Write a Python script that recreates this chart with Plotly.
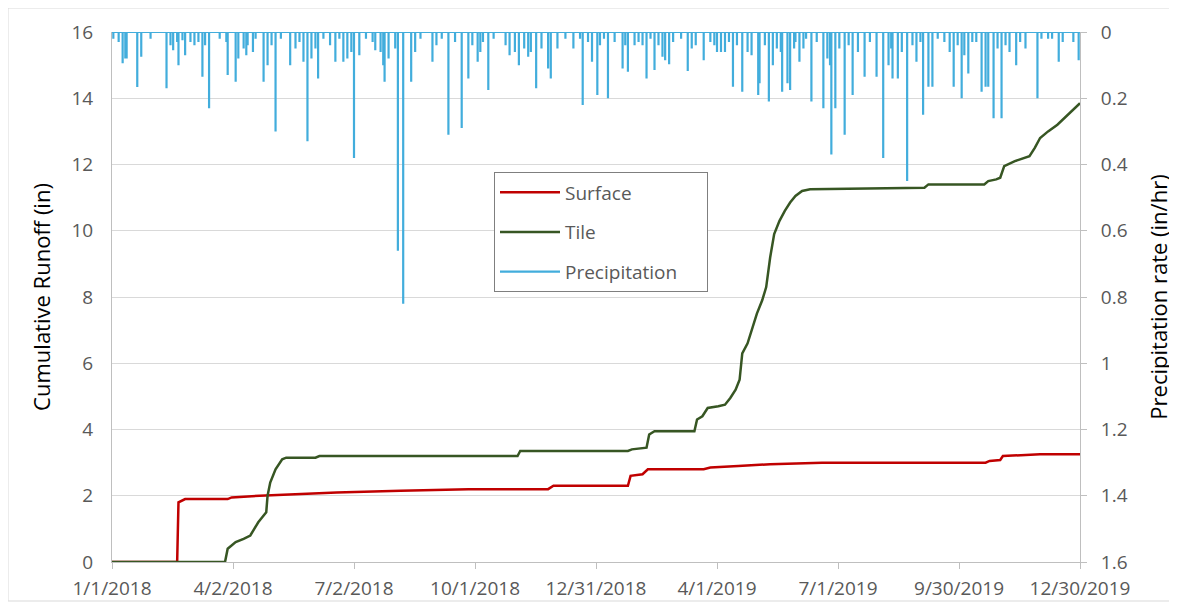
import pandas as pd
import plotly.graph_objects as go

START = pd.Timestamp("2018-01-01")

# Cumulative surface runoff (day offset from 1/1/2018, inches)
surface_day = [0, 49, 50, 55, 87, 90, 111, 141, 169, 217, 268, 328, 332, 388, 390, 399, 403,
               445, 450, 471, 495, 534, 657, 660, 668, 670, 698, 728]
surface_in = [0, 0, 1.8, 1.9, 1.9, 1.95, 2.0, 2.05, 2.1, 2.15, 2.2, 2.2, 2.3, 2.3, 2.6, 2.65, 2.8,
              2.8, 2.85, 2.9, 2.95, 3.0, 3.0, 3.05, 3.08, 3.2, 3.25, 3.25]

# Cumulative tile runoff (day offset, inches)
tile_day = [0, 85, 87, 93, 99, 104, 107, 110, 113, 116, 117, 119, 123, 128, 131, 153, 156, 305,
            307, 388, 391, 402, 404, 408, 438, 440, 444, 448, 456, 461, 465, 469, 472, 474, 478,
            481, 485, 489, 492, 495, 498, 502, 506, 510, 514, 519, 525, 611, 614, 656, 659, 665,
            668, 671, 679, 690, 694, 698, 704, 711, 719, 728]
tile_in = [0, 0, 0.4, 0.6, 0.7, 0.8, 1.0, 1.2, 1.35, 1.5, 2.0, 2.4, 2.8, 3.1, 3.15, 3.15, 3.2, 3.2,
           3.35, 3.35, 3.4, 3.45, 3.85, 3.95, 3.95, 4.3, 4.4, 4.65, 4.7, 4.75, 4.95, 5.2, 5.5, 6.3,
           6.6, 7.0, 7.5, 7.9, 8.3, 9.2, 9.9, 10.3, 10.6, 10.85, 11.05, 11.2, 11.25, 11.3, 11.4,
           11.4, 11.5, 11.55, 11.6, 11.95, 12.1, 12.25, 12.5, 12.8, 13.0, 13.2, 13.5, 13.85]

# Precipitation events (day offset, in/hr)
precip_day = [1, 5, 8, 10, 11, 19, 22, 29, 41, 44, 46, 49, 50, 53, 55, 59, 62, 65, 68, 70, 73, 81,
              86, 87, 93, 95, 99, 101, 102, 106, 108, 114, 117, 120, 123, 127, 134, 138, 141, 144,
              147, 150, 153, 155, 159, 164, 168, 171, 174, 177, 180, 182, 186, 191, 196, 198, 202,
              204, 205, 208, 213, 215, 219, 225, 228, 232, 241, 244, 248, 253, 258, 263, 268, 271,
              275, 277, 279, 283, 287, 296, 299, 303, 306, 310, 313, 315, 319, 323, 328, 330, 335,
              341, 347, 352, 354, 358, 361, 365, 367, 370, 373, 378, 384, 386, 388, 393, 396, 399,
              402, 405, 408, 411, 414, 416, 419, 422, 428, 433, 436, 439, 445, 450, 453, 455, 458,
              461, 464, 467, 470, 474, 478, 481, 486, 487, 491, 494, 497, 500, 503, 504, 508, 510,
              513, 514, 517, 520, 522, 526, 530, 535, 538, 540, 541, 544, 547, 551, 554, 557, 561,
              566, 570, 575, 580, 584, 586, 587, 591, 594, 598, 602, 605, 608, 610, 614, 617, 621,
              626, 630, 633, 636, 639, 641, 644, 647, 650, 654, 657, 659, 663, 666, 669, 672, 675,
              680, 683, 687, 696, 699, 704, 707, 712, 715, 723, 727]
precip_rate = [0.02, 0.03, 0.094, 0.08, 0.08, 0.166, 0.075, 0.02, 0.17, 0.04, 0.055, 0.03, 0.1,
               0.025, 0.07, 0.03, 0.04, 0.03, 0.135, 0.04, 0.23, 0.02, 0.03, 0.13, 0.15, 0.08, 0.05,
               0.07, 0.04, 0.06, 0.02, 0.15, 0.1, 0.04, 0.30, 0.02, 0.1, 0.05, 0.03, 0.09, 0.33,
               0.08, 0.05, 0.14, 0.02, 0.04, 0.09, 0.02, 0.09, 0.08, 0.06, 0.38, 0.07, 0.02, 0.03,
               0.055, 0.06, 0.1, 0.15, 0.08, 0.05, 0.66, 0.82, 0.15, 0.06, 0.02, 0.09, 0.04, 0.02,
               0.31, 0.03, 0.29, 0.14, 0.04, 0.09, 0.06, 0.03, 0.175, 0.02, 0.04, 0.07, 0.06, 0.1,
               0.05, 0.075, 0.06, 0.17, 0.05, 0.11, 0.14, 0.05, 0.02, 0.05, 0.02, 0.22, 0.03, 0.09,
               0.19, 0.04, 0.02, 0.2, 0.03, 0.11, 0.04, 0.12, 0.04, 0.03, 0.04, 0.14, 0.02, 0.115,
               0.04, 0.075, 0.085, 0.097, 0.03, 0.02, 0.118, 0.05, 0.04, 0.085, 0.03, 0.04, 0.06,
               0.06, 0.06, 0.03, 0.165, 0.04, 0.18, 0.06, 0.07, 0.19, 0.155, 0.04, 0.21, 0.1, 0.05,
               0.06, 0.18, 0.155, 0.175, 0.05, 0.03, 0.09, 0.05, 0.02, 0.21, 0.03, 0.23, 0.08, 0.1,
               0.37, 0.23, 0.05, 0.31, 0.04, 0.19, 0.06, 0.135, 0.03, 0.135, 0.38, 0.1, 0.05, 0.14,
               0.14, 0.06, 0.45, 0.04, 0.09, 0.03, 0.25, 0.165, 0.165, 0.02, 0.03, 0.06, 0.165,
               0.04, 0.2, 0.07, 0.125, 0.03, 0.03, 0.18, 0.165, 0.165, 0.26, 0.05, 0.26, 0.04,
               0.06, 0.1, 0.03, 0.05, 0.2, 0.02, 0.02, 0.02, 0.09, 0.03, 0.03, 0.085]

series_names = ["Surface", "Tile", "Precipitation"]

tick_dates = ["2018-01-01", "2018-04-02", "2018-07-02", "2018-10-01", "2018-12-31",
              "2019-04-01", "2019-07-01", "2019-09-30", "2019-12-30"]
tick_labels = ["1/1/2018", "4/2/2018", "7/2/2018", "10/1/2018", "12/31/2018",
               "4/1/2019", "7/1/2019", "9/30/2019", "12/30/2019"]
left_ticks = [0, 2, 4, 6, 8, 10, 12, 14, 16]
right_ticks = [0, 0.2, 0.4, 0.6, 0.8, 1.0, 1.2, 1.4, 1.6]
right_labels = ["0", "0.2", "0.4", "0.6", "0.8", "1", "1.2", "1.4", "1.6"]


def to_dates(days):
    return [START + pd.Timedelta(days=d) for d in days]


# build precipitation spikes hanging from the zero line
events = sorted(zip(precip_day, precip_rate))
px, py = [0], [0.0]
for d, v in events:
    px += [d, d, d]
    py += [0.0, v, 0.0]
px.append(728)
py.append(0.0)

FONT = "Open Sans, Noto Sans, sans-serif"
GRAY = "#595959"
PAD = "\u00a0" * 5  # right padding inside the legend box

# page body adds an 8px offset; margins compensate so the plot area sits at 112..1080 x 32..562
ML, MT, PW, PH = 104, 24, 968, 530

fig = go.Figure()
fig.add_trace(go.Scatter(x=to_dates(surface_day), y=surface_in, mode="lines",
                         name=series_names[0] + PAD,
                         line=dict(color="#C00000", width=2.5), legendrank=1, legendgroup="a"))
fig.add_trace(go.Scatter(x=to_dates(tile_day), y=tile_in, mode="lines",
                         name=series_names[1] + PAD,
                         line=dict(color="#375623", width=2.5), legendrank=2, legendgroup="b"))
fig.add_trace(go.Scatter(x=to_dates(px), y=py, mode="lines", name=series_names[2] + PAD,
                         yaxis="y2",
                         line=dict(color="#42ADDC", width=2.2), legendrank=3, legendgroup="c"))

fig.update_layout(
    width=1177, height=606,
    margin=dict(l=ML, r=1177 - ML - PW, t=MT, b=606 - MT - PH, autoexpand=False),
    paper_bgcolor="white", plot_bgcolor="white",
    font=dict(family=FONT, size=19, color=GRAY),
    showlegend=True,
    legend=dict(x=(494 - 112) / PW, y=0.735, xanchor="left", yanchor="top",
                bordercolor="#7F7F7F", borderwidth=1, bgcolor="white",
                font=dict(family=FONT, size=19, color=GRAY), itemwidth=60,
                tracegroupgap=12, traceorder="grouped"),
    xaxis=dict(type="date", range=[START, START + pd.Timedelta(days=728)],
               tickvals=tick_dates, ticktext=tick_labels, automargin=False,
               showgrid=False, showline=True, linecolor="#BFBFBF", linewidth=1,
               ticks="outside", ticklen=6, tickcolor="#BFBFBF", ticklabelstandoff=3,
               tickfont=dict(family=FONT, size=19, color=GRAY), zeroline=False),
    yaxis=dict(range=[0, 16], tickvals=left_ticks, showgrid=True, gridcolor="#D9D9D9",
               gridwidth=1, showline=True, linecolor="#BFBFBF", zeroline=False,
               ticks="", tickfont=dict(family=FONT, size=19, color=GRAY), automargin=False,
               ticklabelstandoff=14,
               title=dict(text="Cumulative Runoff (in)", font=dict(family=FONT, size=22, color="black"),
                          standoff=14)),
    yaxis2=dict(overlaying="y", side="right", range=[1.6, 0], tickvals=right_ticks,
                ticktext=right_labels, showgrid=False, showline=True, linecolor="#BFBFBF",
                ticks="outside", ticklen=6, tickcolor="#BFBFBF", zeroline=False, automargin=False,
                tickfont=dict(family=FONT, size=19, color=GRAY), ticklabelstandoff=10,
                title=dict(text="Precipitation rate (in/hr)",
                           font=dict(family=FONT, size=22, color="black"), standoff=24)),
    shapes=[dict(type="rect", xref="paper", yref="paper",
                 x0=(0 - ML) / PW, x1=(1166 - ML) / PW,
                 y0=(MT + PH - 593) / PH, y1=(MT + PH - 0) / PH,
                 line=dict(color="#D9D9D9", width=1), layer="below")],
)

fig.write_html("out.html")
